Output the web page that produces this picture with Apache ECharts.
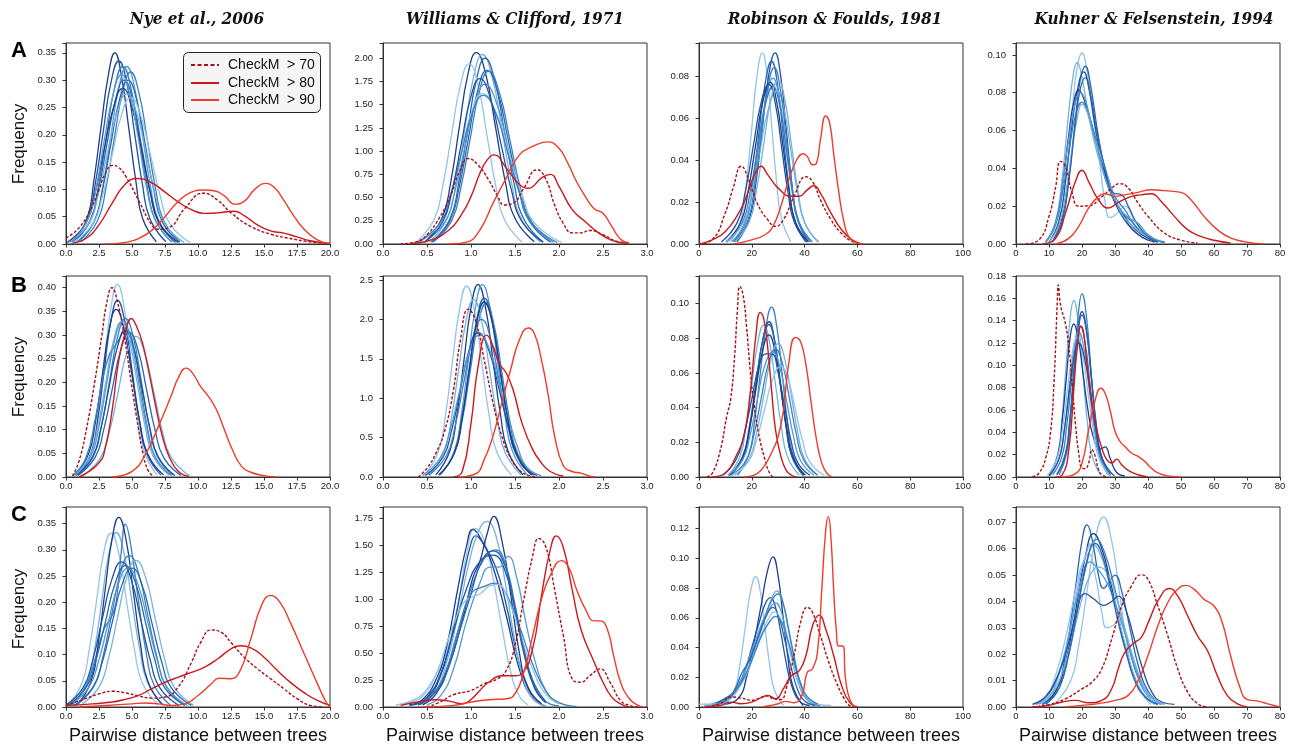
<!DOCTYPE html>
<html><head><meta charset="utf-8">
<script src="https://cdn.jsdelivr.net/npm/echarts@6/dist/echarts.min.js"></script>
<style>html,body{margin:0;padding:0;background:#fff}#c{width:1292px;height:746px}</style>
</head><body><div id="c"></div>
<script>
// ---------------- DATA (flat x,y lists per curve) ----------------
const colTitles = ['Nye et al., 2006', 'Williams & Clifford, 1971', 'Robinson & Foulds, 1981', 'Kuhner & Felsenstein, 1994'];
const rowLetters = ['A', 'B', 'C'];
const redNames = ['CheckM  > 70', 'CheckM  > 80', 'CheckM  > 90'];
const xLabel = 'Pairwise distance between trees';
const yLabel = 'Frequency';

// x axes per column: min, max, interval, decimals
const xMin = [0, 0, 0, 0];
const xMax = [20, 3, 100, 80];
const xStep = [2.5, 0.5, 20, 10];
const xDec = [1, 1, 0, 0];
// y axes per row/column
const yMax = [[0.368, 2.164, 0.0957, 0.1063], [0.4247, 2.55, 0.116, 0.18], [0.3817, 1.858, 0.1345, 0.0758]];
const yStep = [[0.05, 0.25, 0.02, 0.02], [0.05, 0.5, 0.02, 0.02], [0.05, 0.25, 0.02, 0.01]];
const yDec = [[2, 2, 2, 2], [2, 1, 2, 2], [2, 2, 2, 2]];

// ----- Row A -----
const nyeA_blue = [
 [0.55,.004, 1.6,.047, 2.1,.114, 2.65,.213, 3.2,.308, 3.7,.35, 4.2,.308, 4.75,.213, 5.3,.114, 5.8,.047, 6.85,.004],
 [0.43,.004, 1.62,.045, 2.21,.109, 2.81,.204, 3.4,.295, 4.0,.335, 4.6,.295, 5.19,.204, 5.79,.109, 6.38,.045, 7.57,.004],
 [0.6,.004, 1.84,.044, 2.45,.106, 3.07,.198, 3.68,.286, 4.3,.325, 4.92,.286, 5.53,.198, 6.15,.106, 6.76,.044, 8.0,.004],
 [1.0,.004, 2.2,.044, 2.8,.106, 3.4,.198, 4.0,.286, 4.6,.325, 5.2,.286, 5.8,.198, 6.4,.106, 7.0,.044, 8.2,.004],
 [1.15,.004, 2.4,.043, 3.02,.102, 3.65,.192, 4.28,.277, 4.9,.315, 5.52,.277, 6.15,.192, 6.78,.102, 7.4,.043, 8.65,.004],
 [0.5,.003, 1.8,.04, 2.45,.098, 3.1,.183, 3.75,.264, 4.4,.30, 5.05,.264, 5.7,.183, 6.35,.098, 7.0,.04, 8.3,.003],
 [0.1,.003, 1.5,.038, 2.2,.093, 2.9,.174, 3.6,.25, 4.3,.285, 5.0,.25, 5.7,.174, 6.4,.093, 7.1,.038, 8.5,.003],
 [0.8,.003, 2.1,.04, 2.75,.098, 3.4,.183, 4.05,.264, 4.7,.30, 5.35,.264, 6.0,.183, 6.65,.098, 7.3,.04, 8.6,.003],
 [0.25,.003, 1.7,.037, 2.43,.089, 3.15,.168, 3.88,.242, 4.6,.275, 5.33,.242, 6.05,.168, 6.78,.089, 7.5,.037, 8.95,.003],
 [0.5,.003, 2.0,.036, 2.75,.087, 3.5,.163, 4.2,.236, 4.9,.268, 5.65,.236, 6.4,.163, 7.15,.087, 7.9,.036, 9.4,.003],
 [0.35,.003, 1.6,.042, 2.27,.1, 2.9,.19, 3.55,.272, 4.2,.31, 4.85,.272, 5.5,.19, 6.13,.1, 6.8,.042, 8.05,.003]
];
const nyeA_red = [
 [0,.011, 1,.03, 2,.07, 2.5,.1, 3,.13, 3.5,.144, 4,.14, 4.5,.125, 5.5,.08, 6.5,.035, 7,.027, 7.8,.03, 9,.065, 10.4,.093, 11.5,.08, 12.5,.057, 14,.032, 15.5,.018, 17,.01, 18.5,.004, 20,.001],
 [0.5,.002, 1.5,.01, 2.5,.035, 3.5,.075, 4.5,.11, 5.4,.12, 6.5,.112, 7.5,.095, 8.5,.077, 9.5,.063, 10.5,.056, 11.5,.057, 12.7,.06, 13.5,.052, 14.5,.035, 15.5,.024, 16.5,.02, 17.5,.013, 18.5,.006, 20,.001],
 [3,0, 4.5,.003, 5.5,.01, 6.5,.025, 7.5,.05, 8.5,.078, 9.5,.095, 10.5,.099, 11.3,.097, 12,.088, 12.8,.073, 13.5,.078, 14.3,.1, 15.1,.111, 15.8,.103, 16.5,.08, 17.3,.05, 18,.028, 19,.008, 20,.001]
];
const wcA_blue = [
 [0.48,.023, 0.67,.278, 0.77,.67, 0.866,1.25, 0.963,1.817, 1.06,2.06, 1.17,1.817, 1.28,1.25, 1.39,.67, 1.5,.278, 1.72,.023],
 [0.53,.022, 0.73,.275, 0.83,.663, 0.93,1.24, 1.03,1.8, 1.13,2.04, 1.24,1.8, 1.35,1.24, 1.46,.663, 1.57,.275, 1.79,.022],
 [0.56,.022, 0.76,.27, 0.86,.65, 0.96,1.21, 1.06,1.76, 1.16,2.0, 1.27,1.76, 1.38,1.21, 1.49,.65, 1.6,.27, 1.82,.022],
 [0.38,.021, 0.58,.262, 0.68,.63, 0.78,1.18, 0.88,1.71, 0.98,1.94, 1.08,1.71, 1.18,1.18, 1.28,.63, 1.38,.262, 1.58,.021],
 [0.55,.021, 0.76,.252, 0.865,.607, 0.97,1.135, 1.075,1.65, 1.18,1.87, 1.3,1.65, 1.42,1.135, 1.54,.607, 1.66,.252, 1.9,.021],
 [0.57,.021, 0.78,.252, 0.885,.607, 0.99,1.13, 1.095,1.64, 1.2,1.86, 1.32,1.64, 1.44,1.13, 1.56,.607, 1.68,.252, 1.92,.021],
 [0.47,.019, 0.7,.232, 0.815,.559, 0.93,1.044, 1.045,1.517, 1.16,1.72, 1.29,1.517, 1.42,1.044, 1.55,.559, 1.68,.232, 1.94,.019],
 [0.41,.018, 0.65,.219, 0.77,.527, 0.89,.983, 1.01,1.429, 1.13,1.62, 1.28,1.429, 1.43,.983, 1.58,.527, 1.73,.219, 2.03,.018],
 [0.39,.018, 0.64,.216, 0.765,.52, 0.89,.971, 1.015,1.41, 1.14,1.6, 1.28,1.41, 1.42,.971, 1.56,.52, 1.7,.216, 1.98,.018],
 [0.47,.02, 0.68,.24, 0.785,.578, 0.89,1.08, 0.995,1.57, 1.1,1.78, 1.22,1.57, 1.34,1.08, 1.46,.578, 1.58,.24, 1.82,.02]
];
const wcA_red = [
 [0.2,0, 0.4,.03, 0.5,.1, 0.6,.22, 0.75,.48, 0.87,.78, 0.97,.92, 1.08,.85, 1.2,.69, 1.3,.52, 1.38,.42, 1.48,.44, 1.6,.6, 1.75,.8, 1.85,.7, 1.95,.42, 2.05,.22, 2.15,.12, 2.25,.12, 2.35,.146, 2.5,.1, 2.65,.03, 2.8,.005],
 [0.3,.005, 0.5,.03, 0.75,.15, 0.9,.33, 1.0,.51, 1.1,.76, 1.18,.9, 1.26,.96, 1.4,.82, 1.55,.64, 1.65,.6, 1.8,.71, 1.9,.75, 2.0,.62, 2.15,.37, 2.3,.24, 2.45,.12, 2.6,.04, 2.75,.01],
 [0.75,0, 0.95,.02, 1.1,.15, 1.25,.44, 1.4,.71, 1.55,.96, 1.7,1.05, 1.87,1.1, 2.0,1.03, 2.1,.87, 2.2,.67, 2.3,.51, 2.4,.38, 2.5,.33, 2.6,.19, 2.7,.05, 2.8,.01]
];
const rfA_blue = [
 [12,.001, 16,.0123, 18,.0296, 20,.0552, 22,.0803, 24,.091, 25.8,.0803, 27.6,.0552, 29.4,.0296, 31.2,.0123, 34.8,.001],
 [14.4,.001, 19.2,.0123, 21.6,.0296, 24,.0552, 26.4,.0803, 28.8,.091, 30.9,.0803, 33,.0552, 35.1,.0296, 37.2,.0123, 41.4,.001],
 [13.1,.001, 17.9,.0117, 20.3,.0283, 22.7,.0528, 25.1,.0767, 27.5,.087, 29.65,.0767, 31.8,.0528, 33.95,.0283, 36.1,.0117, 40.4,.001],
 [12.4,.001, 17.6,.0107, 20.2,.0257, 22.8,.048, 25.4,.0697, 28,.079, 30.4,.0697, 32.8,.048, 35.2,.0257, 37.6,.0107, 42.4,.001],
 [10.2,.001, 15.8,.0104, 18.6,.025, 21.4,.0467, 24.2,.0679, 27,.077, 29.4,.0679, 31.8,.0467, 34.2,.025, 36.6,.0104, 41.4,.001],
 [10.6,.001, 16.4,.0101, 19.3,.0244, 22.2,.0455, 25.1,.0662, 28,.075, 30.5,.0662, 33,.0455, 35.5,.0244, 38,.0101, 43,.001],
 [10.3,.001, 16.7,.0099, 19.9,.0237, 23.1,.0443, 26.3,.0644, 29.5,.073, 32.15,.0644, 34.8,.0443, 37.45,.0237, 40.1,.0099, 45.4,.001],
 [13.5,.001, 18.5,.0113, 21,.0273, 23.5,.051, 26,.0741, 28.5,.084, 30.75,.0741, 33,.051, 35.25,.0273, 37.5,.0113, 42,.001],
 [8.5,.001, 14.5,.0103, 17.5,.0247, 20.5,.0461, 23.5,.067, 26.5,.076, 28.9,.067, 31.3,.0461, 33.7,.0247, 36.1,.0103, 40.9,.001],
 [13.5,.001, 19,.0105, 21.75,.0254, 24.5,.0473, 27.25,.0688, 30,.078, 32.5,.0688, 35,.0473, 37.5,.0254, 40,.0105, 45,.001]
];
const rfA_red = [
 [0,0, 5,.002, 10,.015, 13,.027, 16,.037, 19,.03, 22,.0195, 26,.0116, 29,.0084, 32,.0116, 36,.0227, 40.5,.032, 43,.0298, 46,.021, 50,.0116, 54,.005, 58,.0013, 62,0],
 [0,0, 5,.002, 10,.006, 15,.0147, 18,.0227, 21,.033, 23.5,.037, 26,.033, 30,.0266, 35,.0227, 38,.0227, 41,.0258, 43.5,.0277, 46,.0242, 50,.0147, 54,.0068, 58,.002, 62,0],
 [13,0, 20,.002, 25,.0044, 28,.0084, 31,.018, 34,.0306, 37,.04, 39.5,.043, 41,.0417, 43,.0377, 44.5,.0385, 46,.0496, 48,.061, 49.5,.0575, 51,.0432, 53,.0242, 55,.01, 57,.0029, 60,.0005, 62,0]
];
const kfA_blue = [
 [10,.001, 13,.012, 15,.033, 17,.07, 18.5,.093, 20,.101, 21.5,.092, 23,.072, 25,.048, 27,.022, 28.5,.014, 30.5,.016, 33,.02, 36,.012, 40,.004, 45,.001],
 [9,.001, 12,.012, 14,.035, 16,.07, 17.5,.091, 18.5,.096, 20,.088, 22,.068, 24,.052, 26,.04, 28,.03, 31,.018, 35,.008, 40,.002],
 [11,.001, 14,.014, 16,.035, 18,.066, 19.5,.087, 21,.094, 22.5,.085, 24.5,.062, 26.5,.042, 29,.026, 32,.017, 35,.012, 38,.006, 43,.001],
 [10,.001, 13,.012, 15,.033, 17,.063, 19,.085, 20.5,.091, 22,.083, 24,.062, 26,.044, 28,.03, 31,.02, 34,.012, 38,.005, 43,.001],
 [9,.001, 12,.011, 14,.03, 16,.058, 17.5,.075, 19,.0815, 20.5,.077, 22.5,.066, 25,.05, 27.5,.035, 30,.022, 33,.013, 37,.005, 42,.001],
 [9,.001, 12,.01, 14,.026, 16,.048, 18,.068, 20,.075, 22,.068, 24,.056, 26,.045, 28,.034, 30,.025, 33,.018, 36,.01, 40,.004, 45,.001],
 [10,.001, 13,.01, 15,.026, 17,.05, 18.5,.066, 20,.074, 21.5,.07, 23.5,.058, 26,.045, 28,.035, 30,.024, 32,.016, 35,.01, 38,.006, 42,.002],
 [11,.001, 14,.012, 16,.033, 18,.064, 19.5,.082, 21,.088, 22.5,.08, 24.5,.06, 27,.04, 29.5,.027, 32,.026, 34,.02, 37,.01, 41,.003, 45,.001],
 [9,.001, 12,.011, 14,.03, 16,.056, 18,.075, 19.5,.08, 21,.076, 23,.062, 25.5,.045, 28,.03, 31,.02, 34,.014, 37,.011, 40,.005, 44,.001]
];
const kfA_red = [
 [3,0, 7,.0023, 10,.0146, 12,.03, 13.5,.0437, 15,.041, 17,.027, 19,.02, 22,.0202, 26,.025, 29,.0296, 31.5,.0319, 34,.0296, 37,.0217, 40,.0146, 45,.0058, 50,.002, 55,.0005],
 [8,0, 12,.003, 15,.0164, 18,.033, 20,.039, 22,.033, 25,.0234, 28,.019, 31,.022, 35,.0252, 38,.026, 41,.0266, 44,.0225, 48,.0146, 52,.0076, 56,.004, 60,.002, 65,.0005],
 [12,0, 16,.003, 19,.0093, 22,.019, 25,.0252, 27,.0266, 30,.0252, 33,.026, 37,.0273, 41,.0287, 45,.0282, 50,.0273, 53,.0234, 57,.0146, 61,.0076, 65,.0032, 70,.001, 75,0]
];

// ----- Row B -----
const nyeB_blue = [
 [0.96,.004, 1.94,.055, 2.43,.132, 2.92,.247, 3.41,.359, 3.9,.407, 4.4,.359, 4.9,.247, 5.4,.132, 5.9,.055, 6.9,.004],
 [0.9,.004, 1.9,.05, 2.4,.121, 2.9,.226, 3.4,.329, 3.9,.373, 4.45,.329, 5.0,.226, 5.55,.121, 6.1,.05, 7.2,.004],
 [0.65,.004, 1.7,.048, 2.22,.115, 2.75,.215, 3.27,.312, 3.8,.354, 4.4,.312, 5.0,.215, 5.6,.115, 6.2,.048, 7.4,.004],
 [0.9,.004, 2.1,.045, 2.7,.109, 3.3,.203, 3.9,.295, 4.5,.335, 5.1,.295, 5.7,.203, 6.3,.109, 6.9,.045, 8.1,.004],
 [0.6,.004, 1.8,.044, 2.4,.106, 3.0,.198, 3.6,.288, 4.2,.327, 4.8,.288, 5.4,.198, 6.0,.106, 6.6,.044, 7.8,.004],
 [0.5,.003, 1.5,.04, 2.2,.12, 2.8,.21, 3.3,.26, 3.6,.272, 4.0,.29, 4.5,.315, 5.0,.29, 5.6,.2, 6.2,.1, 6.8,.04, 8,.003],
 [1.25,.003, 2.6,.04, 3.3,.097, 3.95,.18, 4.6,.262, 5.3,.297, 5.95,.262, 6.65,.18, 7.3,.097, 8.0,.04, 9.35,.003],
 [0.9,.003, 2.2,.041, 2.85,.099, 3.5,.185, 4.15,.269, 4.8,.305, 5.45,.269, 6.1,.185, 6.75,.099, 7.4,.041, 8.7,.003],
 [0.75,.003, 2.0,.042, 2.62,.1, 3.25,.188, 3.88,.273, 4.5,.31, 5.12,.273, 5.75,.188, 6.38,.1, 7.0,.042, 8.25,.003],
 [0.7,.004, 1.9,.045, 2.5,.107, 3.1,.2, 3.7,.291, 4.3,.33, 4.9,.291, 5.5,.2, 6.1,.107, 6.7,.045, 7.9,.004]
];
const nyeB_red = [
 [0.5,.002, 1,.035, 1.54,.1, 2.17,.2, 2.72,.3, 3.1,.37, 3.48,.40, 3.9,.37, 4.4,.30, 4.94,.2, 5.5,.1, 5.83,.05, 6.2,.015, 6.6,.002],
 [1,0, 2.5,.03, 3,.065, 3.5,.142, 4,.247, 4.5,.307, 4.95,.335, 5.3,.321, 5.8,.283, 6.3,.219, 6.8,.149, 7.3,.086, 7.8,.044, 8.5,.012, 9.3,.001],
 [3.5,0, 5,.012, 6,.047, 7,.107, 8,.174, 8.5,.209, 9.1,.23, 9.6,.219, 10.2,.191, 10.8,.17, 11.4,.142, 12,.1, 12.6,.058, 13.3,.0225, 14,.01, 15,.003, 16,0]
];
const wcB_blue = [
 [0.47,.027, 0.63,.327, 0.71,.787, 0.79,1.47, 0.87,2.13, 0.95,2.42, 1.035,2.13, 1.12,1.47, 1.205,.787, 1.29,.327, 1.46,.027],
 [0.6,.027, 0.76,.33, 0.84,.79, 0.92,1.48, 1.0,2.15, 1.08,2.44, 1.165,2.15, 1.25,1.48, 1.335,.79, 1.42,.33, 1.59,.027],
 [0.65,.027, 0.81,.33, 0.89,.79, 0.97,1.48, 1.05,2.15, 1.13,2.44, 1.215,2.15, 1.3,1.48, 1.385,.79, 1.47,.33, 1.64,.027],
 [0.64,.025, 0.81,.306, 0.895,.738, 0.98,1.38, 1.065,2.0, 1.15,2.27, 1.24,2.0, 1.33,1.38, 1.42,.738, 1.51,.306, 1.69,.025],
 [0.63,.024, 0.81,.297, 0.9,.715, 0.99,1.335, 1.08,1.94, 1.17,2.2, 1.26,1.94, 1.35,1.335, 1.44,.715, 1.53,.297, 1.71,.024],
 [0.52,.025, 0.69,.304, 0.775,.731, 0.86,1.366, 0.945,1.985, 1.03,2.25, 1.12,1.985, 1.21,1.366, 1.3,.731, 1.39,.304, 1.57,.025],
 [0.52,.022, 0.72,.27, 0.82,.65, 0.92,1.214, 1.02,1.764, 1.12,2.0, 1.22,1.764, 1.32,1.214, 1.42,.65, 1.52,.27, 1.72,.022],
 [0.48,.02, 0.68,.247, 0.78,.595, 0.88,1.11, 0.98,1.614, 1.08,1.83, 1.2,1.614, 1.32,1.11, 1.42,.65, 1.52,.3, 1.6,.12, 1.75,.02],
 [0.45,.02, 0.65,.243, 0.76,.585, 0.87,1.09, 0.98,1.588, 1.1,1.8, 1.22,1.588, 1.34,1.09, 1.44,.7, 1.53,.38, 1.63,.13, 1.8,.015],
 [0.64,.024, 0.81,.3, 0.895,.72, 0.98,1.35, 1.065,1.96, 1.15,2.22, 1.24,1.96, 1.33,1.35, 1.42,.72, 1.51,.3, 1.69,.024]
];
const wcB_red = [
 [0.4,0, 0.5,.11, 0.6,.3, 0.7,.58, 0.8,1.1, 0.88,1.74, 0.97,2.13, 1.05,1.99, 1.15,1.49, 1.25,.94, 1.35,.52, 1.45,.24, 1.55,.09, 1.65,.02, 1.75,0],
 [0.8,0, 0.9,.07, 1.0,.68, 1.08,1.4, 1.18,1.8, 1.25,1.66, 1.32,1.44, 1.4,1.32, 1.48,1.1, 1.58,.68, 1.7,.35, 1.8,.18, 1.9,.07, 2.05,.01],
 [0.85,0, 1.05,.04, 1.15,.22, 1.25,.52, 1.35,.94, 1.45,1.36, 1.55,1.74, 1.65,1.89, 1.72,1.82, 1.8,1.49, 1.88,1.02, 1.95,.52, 2.05,.14, 2.15,.07, 2.25,.05, 2.35,.01, 2.42,0]
];
const rfB_blue = [
 [11,.001, 15.5,.0118, 17.75,.0285, 20,.0532, 22.25,.0774, 24.5,.0877, 26.75,.0774, 29,.0532, 31.25,.0285, 33.5,.0118, 38,.001],
 [14.6,.001, 18.9,.0132, 21.05,.0319, 23.2,.0595, 25.35,.0864, 27.5,.098, 29.5,.0864, 31.5,.0595, 33.5,.0319, 35.5,.0132, 39.5,.001],
 [12.1,.001, 16.9,.0121, 19.3,.0291, 21.7,.0544, 24.1,.079, 26.5,.0896, 28.65,.079, 30.8,.0544, 32.95,.0291, 35.1,.0121, 39.4,.001],
 [11.5,.001, 16.5,.0119, 19,.0286, 21.5,.0534, 24,.0776, 26.5,.088, 28.7,.0776, 30.9,.0534, 33.1,.0286, 35.3,.0119, 39.7,.001],
 [11.5,.001, 16.5,.0111, 19,.0267, 21.5,.0498, 24,.0723, 26.5,.082, 28.8,.0723, 31.1,.0498, 33.4,.0267, 35.7,.0111, 40.3,.001],
 [13.5,.001, 19,.0104, 21.75,.025, 24.5,.0467, 27.25,.0679, 30,.077, 32.5,.0679, 35,.0467, 37.5,.025, 40,.0104, 45,.001],
 [12.5,.001, 18,.01, 20.75,.024, 23.5,.0449, 26.25,.0653, 29,.074, 31.65,.0653, 34.3,.0449, 36.95,.024, 39.6,.01, 44.9,.001],
 [9,.001, 14,.01, 17,.024, 20,.045, 23,.066, 25.5,.071, 27.5,.071, 30,.06, 32.5,.04, 35,.02, 37.5,.008, 42,.001],
 [12.4,.001, 18.6,.0086, 21.7,.0208, 24.8,.0388, 27.9,.0564, 31,.064, 33.75,.0564, 36.5,.0388, 39.25,.0208, 42,.0086, 47.5,.001],
 [11,.001, 16.5,.0097, 19.25,.0234, 22,.0437, 24.75,.0635, 28,.072, 30.6,.0635, 33.2,.0437, 35.8,.0234, 38.4,.0097, 43.6,.001]
];
const rfB_red = [
 [3,0, 5,.002, 8,.015, 10.5,.035, 12,.045, 13.5,.07, 14.5,.095, 15.5,.11, 16.7,.105, 18,.087, 19.5,.06, 21,.04, 23,.022, 25,.01, 26.5,.003, 28,0],
 [5,0, 10,.0023, 14,.012, 17,.0234, 19.5,.05, 21.5,.081, 23.2,.095, 24.5,.0916, 26,.075, 27.5,.05, 29,.027, 31,.012, 33,.004, 35,.001, 37,0],
 [17,0, 22,.002, 25,.007, 28,.0157, 30,.0234, 32,.0388, 34,.0656, 36.5,.0806, 38.5,.078, 40.5,.0647, 42.5,.0426, 44.5,.0215, 46.5,.008, 48.5,.002, 50.5,0]
];
const kfB_blue = [
 [10.3,.002, 12.7,.021, 13.9,.051, 15.1,.096, 16.3,.139, 17.5,.158, 18.85,.139, 20.2,.096, 21.55,.051, 22.9,.021, 25.6,.002],
 [13.1,.002, 15.4,.022, 16.55,.053, 17.7,.1, 18.85,.145, 20,.164, 21.3,.145, 22.6,.1, 23.9,.053, 25.2,.022, 27.8,.002],
 [12.5,.002, 15,.02, 16.25,.048, 17.5,.09, 18.75,.131, 20,.148, 21.4,.131, 22.8,.09, 24.2,.048, 25.6,.02, 28.4,.002],
 [12.3,.002, 14.9,.02, 16.15,.047, 17.4,.088, 18.7,.128, 20,.145, 21.45,.128, 22.9,.088, 24.35,.047, 25.8,.02, 28.7,.002],
 [10,.002, 12.7,.02, 14,.05, 15.3,.09, 16.4,.125, 17.5,.137, 18.8,.125, 20.2,.095, 21.8,.06, 23.5,.035, 25.5,.025, 27,.027, 28.5,.017, 30.5,.004, 33,.001],
 [11.1,.002, 13.9,.018, 15.3,.044, 16.7,.082, 18.1,.119, 19.5,.135, 21,.119, 22.5,.082, 24,.044, 25.5,.018, 28.5,.002],
 [10.3,.001, 13.2,.018, 14.65,.042, 16.1,.079, 17.55,.115, 19,.13, 20.6,.115, 22.2,.079, 23.8,.042, 25.4,.018, 28.6,.001],
 [9.5,.001, 12.5,.017, 14,.041, 15.5,.076, 17,.11, 18.5,.125, 20.15,.11, 21.8,.076, 23.45,.041, 25.1,.017, 28.4,.001],
 [10,.001, 13,.016, 14.5,.039, 16,.073, 17.5,.106, 19,.12, 20.8,.106, 22.6,.073, 24.4,.039, 26.2,.016, 29.8,.001]
];
const kfB_red = [
 [5,0, 7,.0036, 9,.017, 10.5,.041, 11.5,.084, 12.5,.156, 12.8,.172, 13.5,.154, 15,.137, 16,.117, 17,.084, 18,.048, 19,.0215, 20,.008, 21,.0075, 22,.0125, 23,.0245, 24,.0185, 25,.0066, 26,.002, 27.5,0],
 [12,0, 14,.002, 16,.0245, 17.5,.078, 18.5,.114, 19.7,.135, 20.5,.129, 21.5,.102, 23,.066, 24.5,.042, 26,.026, 27.5,.0155, 29,.0125, 30.5,.016, 32,.011, 34,.006, 37,.002, 40,0],
 [14,0, 18,.003, 20,.0125, 22,.042, 24,.069, 25.7,.0795, 27,.075, 28.5,.06, 30,.041, 31.5,.032, 33,.0274, 35,.0215, 37,.0185, 39,.014, 41,.008, 43,.0036, 46,.001, 50,0]
];

// ----- Row C -----
const nyeC_blue = [
 [0.1,.004, 1.2,.045, 1.75,.108, 2.3,.2, 2.85,.293, 3.4,.332, 4.0,.293, 4.6,.2, 5.2,.108, 5.8,.045, 7.0,.004],
 [0.5,.004, 1.6,.045, 2.15,.108, 2.7,.2, 3.25,.293, 3.8,.333, 4.4,.293, 5.0,.2, 5.6,.108, 6.2,.045, 7.4,.004],
 [0.3,.004, 1.5,.04, 2.3,.1, 2.9,.15, 3.4,.17, 3.8,.2, 4.2,.3, 4.5,.349, 4.9,.31, 5.5,.2, 6.1,.1, 6.7,.04, 7.9,.004],
 [0.85,.004, 1.9,.049, 2.43,.118, 2.95,.22, 3.48,.319, 4.0,.362, 4.55,.319, 5.1,.22, 5.65,.118, 6.2,.049, 7.3,.004],
 [0.75,.003, 2.1,.039, 2.78,.094, 3.45,.175, 4.12,.255, 4.8,.289, 5.5,.255, 6.2,.175, 6.9,.094, 7.6,.039, 9.0,.003],
 [1.1,.003, 2.5,.038, 3.2,.091, 3.9,.17, 4.6,.247, 5.3,.28, 6.03,.247, 6.75,.17, 7.48,.091, 8.2,.038, 9.65,.003],
 [0,.004, 1.3,.037, 2.03,.09, 2.75,.168, 3.48,.244, 4.2,.277, 4.93,.244, 5.65,.168, 6.38,.09, 7.1,.037, 8.55,.003],
 [0.1,.003, 1.5,.036, 2.25,.088, 3.0,.164, 3.75,.238, 4.5,.27, 5.25,.238, 6.0,.164, 6.75,.088, 7.5,.036, 9.0,.003],
 [0.3,.003, 1.7,.036, 2.45,.086, 3.2,.161, 3.95,.234, 4.7,.265, 5.45,.234, 6.2,.161, 6.95,.086, 7.7,.036, 9.2,.003],
 [0.6,.003, 2.0,.036, 2.75,.086, 3.5,.161, 4.25,.234, 5.0,.265, 5.75,.234, 6.5,.161, 7.25,.086, 8.0,.036, 9.5,.003]
];
const nyeC_red = [
 [0,.003, 1.5,.016, 2.5,.025, 3.5,.03, 4.5,.027, 5.5,.021, 6.5,.017, 7.5,.019, 8.5,.038, 9.5,.085, 10.2,.123, 11,.147, 11.8,.142, 12.5,.123, 13.5,.095, 14.5,.073, 15.5,.054, 16.5,.035, 17.5,.016, 18.5,.003, 19.5,0],
 [0,.003, 2,.006, 3.5,.0095, 4.5,.0146, 5.5,.022, 6.5,.035, 7.5,.047, 8.5,.057, 9.5,.066, 10.5,.076, 11.5,.092, 12.5,.111, 13.2,.117, 14,.113, 15,.095, 16,.07, 17,.047, 18,.028, 19,.013, 20,.003],
 [1,0, 3,.003, 5,.006, 6,.0076, 7,.006, 8,.003, 9,.006, 10,.022, 11,.044, 11.6,.055, 12.5,.054, 13.2,.07, 14,.13, 14.8,.193, 15.5,.213, 16.2,.2, 17,.161, 18,.104, 19,.047, 19.7,.0095, 20,0]
];
const wcC_blue = [
 [0.15,.02, 0.3,.05, 0.45,.12, 0.6,.3, 0.72,.5, 0.85,.95, 0.95,1.42, 1.05,1.66, 1.15,1.55, 1.25,1.2, 1.35,.75, 1.45,.33, 1.55,.1, 1.65,.02],
 [0.3,.02, 0.45,.07, 0.6,.25, 0.72,.55, 0.85,1.1, 0.95,1.5, 1.02,1.65, 1.12,1.55, 1.25,1.3, 1.4,.85, 1.55,.35, 1.7,.08, 1.85,.01],
 [0.3,.015, 0.5,.08, 0.65,.28, 0.78,.65, 0.9,1.15, 1.0,1.52, 1.05,1.59, 1.15,1.5, 1.28,1.3, 1.4,.95, 1.52,.5, 1.65,.17, 1.8,.03],
 [0.4,.02, 0.55,.1, 0.7,.35, 0.85,.85, 0.98,1.35, 1.08,1.62, 1.18,1.725, 1.28,1.6, 1.38,1.2, 1.48,.7, 1.58,.3, 1.7,.08, 1.85,.01],
 [0.45,.02, 0.6,.12, 0.75,.38, 0.9,.8, 1.02,1.2, 1.1,1.35, 1.18,1.6, 1.26,1.77, 1.35,1.55, 1.45,1.05, 1.55,.5, 1.65,.18, 1.8,.03],
 [0.4,.02, 0.55,.1, 0.7,.3, 0.85,.7, 1.0,1.1, 1.15,1.38, 1.28,1.46, 1.4,1.3, 1.5,.95, 1.6,.55, 1.72,.2, 1.85,.05, 2.0,.01],
 [0.35,.02, 0.5,.09, 0.65,.3, 0.8,.7, 0.95,1.1, 1.1,1.35, 1.25,1.41, 1.38,1.28, 1.5,.9, 1.6,.5, 1.72,.18, 1.85,.04],
 [0.5,.02, 0.65,.1, 0.8,.35, 0.95,.8, 1.1,1.15, 1.22,1.3, 1.32,1.3, 1.42,1.4, 1.52,1.2, 1.62,.8, 1.72,.45, 1.85,.15, 2.0,.03],
 [0.4,.02, 0.55,.1, 0.7,.3, 0.85,.7, 1.0,1.05, 1.15,1.12, 1.27,1.15, 1.4,1.05, 1.55,.75, 1.7,.4, 1.85,.15, 2.0,.04, 2.2,.005],
 [0.15,.02, 0.3,.04, 0.45,.1, 0.6,.3, 0.75,.65, 0.9,.95, 1.0,1.02, 1.1,1.05, 1.2,1.12, 1.3,1.14, 1.42,1.0, 1.55,.7, 1.7,.35, 1.85,.12, 2.0,.03],
 [0.4,.02, 0.55,.1, 0.7,.28, 0.85,.65, 1.0,1.05, 1.12,1.35, 1.25,1.45, 1.37,1.35, 1.48,1.0, 1.58,.6, 1.7,.25, 1.85,.05]
];
const wcC_red = [
 [0.5,0, 0.65,.046, 0.8,.114, 1.0,.154, 1.15,.216, 1.3,.262, 1.4,.339, 1.5,.57, 1.6,1.0, 1.7,1.4, 1.77,1.565, 1.85,1.49, 1.95,1.09, 2.05,.66, 2.15,.26, 2.25,.23, 2.35,.29, 2.47,.354, 2.58,.23, 2.7,.06, 2.8,.015, 2.9,0],
 [0.2,.015, 0.4,.046, 0.6,.068, 0.75,.055, 0.9,.03, 1.0,.07, 1.1,.154, 1.2,.23, 1.35,.29, 1.5,.29, 1.58,.31, 1.7,.54, 1.8,1.03, 1.9,1.46, 1.97,1.59, 2.05,1.48, 2.15,1.09, 2.25,.72, 2.4,.416, 2.5,.23, 2.6,.092, 2.7,.03, 2.8,0],
 [0.45,0, 0.8,.015, 1.0,.046, 1.2,.068, 1.4,.077, 1.5,.123, 1.6,.323, 1.7,.66, 1.8,1.0, 1.9,1.22, 2.03,1.36, 2.12,1.28, 2.2,1.09, 2.3,.91, 2.4,.8, 2.47,.8, 2.55,.72, 2.62,.48, 2.7,.23, 2.8,.077, 2.9,.015, 2.95,0]
];
const rfC_blue = [
 [9.5,.001, 13.5,.0118, 15.5,.0285, 17.5,.0532, 19.5,.0774, 21.5,.0877, 23.25,.0774, 25,.0532, 26.75,.0285, 28.5,.0118, 32,.001],
 [10,.002, 15,.006, 18,.02, 21,.045, 23.5,.068, 26,.092, 28,.101, 29.9,.089, 31.8,.0613, 33.7,.0328, 35.6,.0136, 39.4,.001],
 [4,.001, 10,.004, 14,.01, 17,.022, 20,.04, 23,.058, 25,.069, 27,.0735, 29,.067, 31,.05, 33,.03, 35,.015, 38,.004, 42,.001],
 [2,.001, 8,.002, 12,.006, 16,.016, 19,.028, 22,.042, 25,.06, 27.5,.073, 29.5,.078, 31.5,.072, 33.5,.055, 36,.032, 38.5,.014, 41,.005, 45,.001],
 [5,.001, 10,.005, 14,.012, 18,.027, 22,.045, 25,.061, 28,.073, 30,.076, 32,.069, 34,.052, 36.5,.03, 39,.013, 42,.004, 46,.001],
 [3,.001, 8,.004, 11,.006, 15,.015, 18,.028, 21,.043, 24,.057, 27,.067, 29,.07, 31,.065, 33,.05, 35.5,.03, 38,.014, 41,.005, 45,.001],
 [5,.001, 10,.006, 13,.01, 16,.022, 18,.028, 20,.035, 23,.05, 26,.063, 28,.067, 30,.062, 32.5,.045, 35,.026, 37.5,.011, 40,.004, 44,.001],
 [0,.002, 5,.002, 10,.004, 14,.01, 18,.022, 21,.036, 24,.05, 26.5,.06, 28.5,.064, 30.5,.061, 33,.048, 35.5,.03, 38,.015, 41,.006, 45,.002, 50,.001],
 [5,.001, 10,.004, 14,.011, 18,.023, 21,.036, 24,.049, 27,.058, 29,.061, 31,.058, 33.5,.046, 36,.03, 38.5,.016, 41,.007, 45,.002]
];
const rfC_red = [
 [3,0, 8,.0022, 12,.0067, 16,.006, 20,.0045, 24,.0067, 26,.0074, 28,.0056, 31,.005, 33,.0123, 36,.0346, 38.5,.057, 41,.067, 43,.0636, 46,.048, 49,.031, 52,.0167, 55,.0056, 57,.001, 59,0],
 [2,0, 8,.001, 12,.0033, 16,.0022, 20,.0033, 24,.0067, 26,.0078, 29,.0056, 32,.0123, 35,.021, 38,.0245, 40.5,.0346, 43,.0546, 45.5,.0618, 48,.0524, 51,.0346, 54,.0145, 57,.0033, 60,0],
 [24,0, 27,.001, 30,.0022, 33,.0038, 36,.0029, 39,.0078, 41,.0234, 43,.0257, 45,.039, 46.5,.079, 48,.119, 49,.128, 50,.113, 51,.079, 52,.052, 53,.041, 54.5,.041, 55.5,.019, 57,.0056, 59,0]
];
const kfC_blue = [
 [11.5,.001, 16.5,.0097, 19,.0234, 21.5,.0437, 24,.0635, 26.5,.072, 28.9,.0635, 31.3,.0437, 33.7,.0234, 36.1,.0097, 40.9,.001],
 [8,.001, 12,.006, 15,.02, 18,.045, 20,.063, 21.5,.069, 23,.064, 25,.05, 26.5,.045, 28.5,.048, 30,.05, 32,.044, 34.5,.03, 37,.016, 40,.006, 44,.001],
 [8,.001, 12,.006, 15,.017, 18,.036, 21,.057, 23.5,.0657, 26,.06, 28.5,.048, 31,.034, 33.5,.021, 36,.011, 39,.004, 43,.001],
 [8,.001, 12,.005, 15,.015, 18,.032, 21,.052, 24.5,.0635, 27,.058, 29.5,.047, 32,.034, 34.5,.021, 37,.011, 40,.004, 44,.001],
 [6,.001, 10,.004, 13,.012, 16,.027, 19,.047, 21,.057, 23,.062, 25.5,.058, 28,.048, 30.5,.036, 33,.024, 35.5,.013, 38,.006, 42,.001],
 [5,.001, 9,.004, 12,.012, 15,.026, 18,.044, 20,.054, 22,.058, 24,.05, 26,.036, 27.5,.03, 29.5,.031, 31,.033, 33,.028, 35.5,.018, 38,.009, 41,.003, 45,.001],
 [6,.001, 10,.005, 13,.013, 16,.027, 19,.044, 22.5,.055, 25,.052, 28,.046, 31,.036, 34,.024, 37,.012, 40,.005, 44,.001],
 [7,.001, 11,.005, 14,.013, 17,.026, 20,.041, 22.5,.05, 25,.053, 27.5,.051, 30,.043, 32.5,.032, 35,.021, 38,.01, 41,.004, 45,.001],
 [5,.001, 9,.004, 12,.01, 15,.02, 18,.034, 21,.043, 23.5,.041, 26.5,.0385, 29,.04, 31,.042, 33.5,.036, 36,.025, 38.5,.014, 41,.006, 44,.002, 48,.001],
 [9,.001, 13,.007, 16,.02, 19,.04, 22,.058, 24,.062, 26,.058, 28.5,.046, 31,.032, 33.5,.02, 36,.01, 39,.004, 43,.001]
];
const kfC_red = [
 [5,0, 10,.0009, 15,.0031, 20,.0069, 23,.0094, 26,.0145, 29,.0258, 32,.0383, 35,.0459, 38,.0501, 40,.0484, 43,.0383, 46,.027, 49,.0145, 52,.0057, 55,.0013, 58,0],
 [5,0, 10,.0006, 14,.0019, 18,.0025, 22,.0016, 26,.0025, 29,.0069, 31,.0145, 33,.0207, 36,.0245, 38,.0264, 40.5,.0333, 43,.0402, 46.5,.0449, 49,.0421, 52,.0346, 55,.027, 58,.0214, 61,.0119, 64,.0044, 67,.0013, 70,0],
 [15,0, 20,.0006, 25,.0013, 30,.0025, 34,.0044, 37,.01, 40,.0195, 43,.0308, 46,.0396, 49,.0446, 51.5,.0461, 54,.0446, 57,.0408, 60,.0383, 62.5,.032, 65,.0195, 68,.0069, 70,.0029, 73,.0023, 76,.0013, 80,0]
];

// ---------------- STYLE / LAYOUT ----------------
const panels = [
  [nyeA_blue, nyeA_red], [wcA_blue, wcA_red], [rfA_blue, rfA_red], [kfA_blue, kfA_red],
  [nyeB_blue, nyeB_red], [wcB_blue, wcB_red], [rfB_blue, rfB_red], [kfB_blue, kfB_red],
  [nyeC_blue, nyeC_red], [wcC_blue, wcC_red], [rfC_blue, rfC_red], [kfC_blue, kfC_red]
];
const blueShades = ['#1c3c8c', '#21529f', '#2766b0', '#3a80c2', '#5599cf', '#77b2de', '#93c4e8'];
const shadeIdx = [
  [0,1,3,4,3,2,0,2,5,6,4], [0,5,2,6,2,3,4,6,3,1], [6,1,2,4,0,3,5,3,1,5], [6,5,2,1,0,3,5,2,4],
  [6,1,0,3,5,3,5,2,1,4], [6,0,4,2,3,5,3,1,4,0], [5,3,1,2,0,5,3,1,6,4], [5,3,1,2,0,3,4,6,1],
  [6,5,3,0,3,5,1,2,4,2], [6,0,1,5,0,3,1,4,3,6,2], [6,0,1,5,3,4,2,6,3], [6,2,0,3,5,6,4,5,1,2]
];
const redColors = ['#a50f15', '#cb181d', '#ef3b2c'];
const redDash = [[3, 1.8], null, null];
const colLeft = [66, 383, 699, 1016];
const rowTop = [43, 276, 507];
const GW = 264, GH = 201;
const sans = '"Liberation Sans", Arial, Helvetica, sans-serif';

function pairs(f) { const o = []; for (let i = 0; i < f.length; i += 2) o.push([f[i], f[i + 1]]); return o; }
function fmt(step, dec) {
  return function (v) {
    const k = v / step;
    if (Math.abs(k - Math.round(k)) > 1e-6) return '';
    return v.toFixed(dec);
  };
}

const grid = [], xAxis = [], yAxis = [], series = [];
for (let r = 0; r < 3; r++) {
  for (let c = 0; c < 4; c++) {
    const i = r * 4 + c;
    grid.push({ left: colLeft[c], top: rowTop[r], width: GW, height: GH, show: true,
      borderColor: '#333', borderWidth: 1, backgroundColor: 'rgba(0,0,0,0)' });
    xAxis.push({ gridIndex: i, type: 'value', min: xMin[c], max: xMax[c], interval: xStep[c],
      axisLine: { show: true, lineStyle: { color: '#333', width: 1 } },
      axisTick: { show: true, length: 3.5, lineStyle: { color: '#333' } },
      axisLabel: { fontSize: 9.5, color: '#222', fontFamily: sans, margin: 4, formatter: fmt(xStep[c], xDec[c]) },
      splitLine: { show: false },
      name: r === 2 ? xLabel : '', nameLocation: 'middle', nameGap: 20,
      nameTextStyle: { fontSize: 18, color: '#111', fontFamily: sans } });
    yAxis.push({ gridIndex: i, type: 'value', min: 0, max: yMax[r][c], interval: yStep[r][c],
      axisLine: { show: true, lineStyle: { color: '#333', width: 1 } },
      axisTick: { show: true, length: 3.5, lineStyle: { color: '#333' } },
      axisLabel: { fontSize: 9.5, color: '#222', fontFamily: sans, margin: 10, formatter: fmt(yStep[r][c], yDec[r][c]) },
      splitLine: { show: false } });
    const [blue, red] = panels[i];
    blue.forEach((curve, j) => {
      const col = blueShades[shadeIdx[i][j] !== undefined ? shadeIdx[i][j] : 3];
      series.push({ type: 'line', xAxisIndex: i, yAxisIndex: i, data: pairs(curve), symbol: 'none',
        showSymbol: false, smooth: 0.5, silent: true, z: 2,
        lineStyle: { width: 1.3, color: col }, itemStyle: { color: col } });
    });
    red.forEach((curve, j) => {
      series.push({ type: 'line', name: redNames[j], xAxisIndex: i, yAxisIndex: i, data: pairs(curve),
        symbol: 'none', showSymbol: false, smooth: 0.5, silent: true, z: 3,
        lineStyle: { width: 1.4, color: redColors[j], type: redDash[j] || 'solid' },
        itemStyle: { color: redColors[j] } });
    });
  }
}

const graphic = [];
const titleX = [197, 515, 835, 1154];
colTitles.forEach((t, c) => graphic.push({ type: 'text', x: titleX[c], y: 20,
  style: { text: t, fontFamily: '"DejaVu Serif Condensed", "DejaVu Serif", serif', fontStyle: 'italic',
    fontWeight: 'bold', fontSize: 17, fill: '#111', align: 'center', verticalAlign: 'middle' } }));
const letterY = [51, 286, 515];
const freqY = [144, 377, 609];
rowLetters.forEach((L, r) => {
  graphic.push({ type: 'text', x: 19, y: letterY[r],
    style: { text: L, fontFamily: sans, fontWeight: 'bold', fontSize: 22, fill: '#000', align: 'center', verticalAlign: 'middle' } });
  graphic.push({ type: 'text', x: 19, y: freqY[r], rotation: Math.PI / 2,
    style: { text: yLabel, fontFamily: sans, fontSize: 17, fill: '#111', align: 'center', verticalAlign: 'middle' } });
});
// legend box (panel A, Nye)
const legY = [65, 83, 100];
graphic.push({ type: 'rect', shape: { x: 183.5, y: 52.5, width: 137, height: 60, r: 5 }, z: 50,
  style: { fill: '#f5f5f5', stroke: '#222', lineWidth: 1 } });
redNames.forEach((n, j) => {
  graphic.push({ type: 'line', z: 51, shape: { x1: 191, y1: legY[j], x2: 219, y2: legY[j] },
    style: { stroke: redColors[j], lineWidth: 2, lineDash: redDash[j] ? [4, 2.5] : null } });
  graphic.push({ type: 'text', z: 51, x: 228, y: legY[j],
    style: { text: n, fontFamily: sans, fontSize: 14, fill: '#111', align: 'left', verticalAlign: 'middle' } });
});

const chart = echarts.init(document.getElementById('c'), null, { renderer: 'canvas' });
chart.setOption({
  animation: false,
  backgroundColor: '#fff',
  grid, xAxis, yAxis, series, graphic
});
</script></body></html>
